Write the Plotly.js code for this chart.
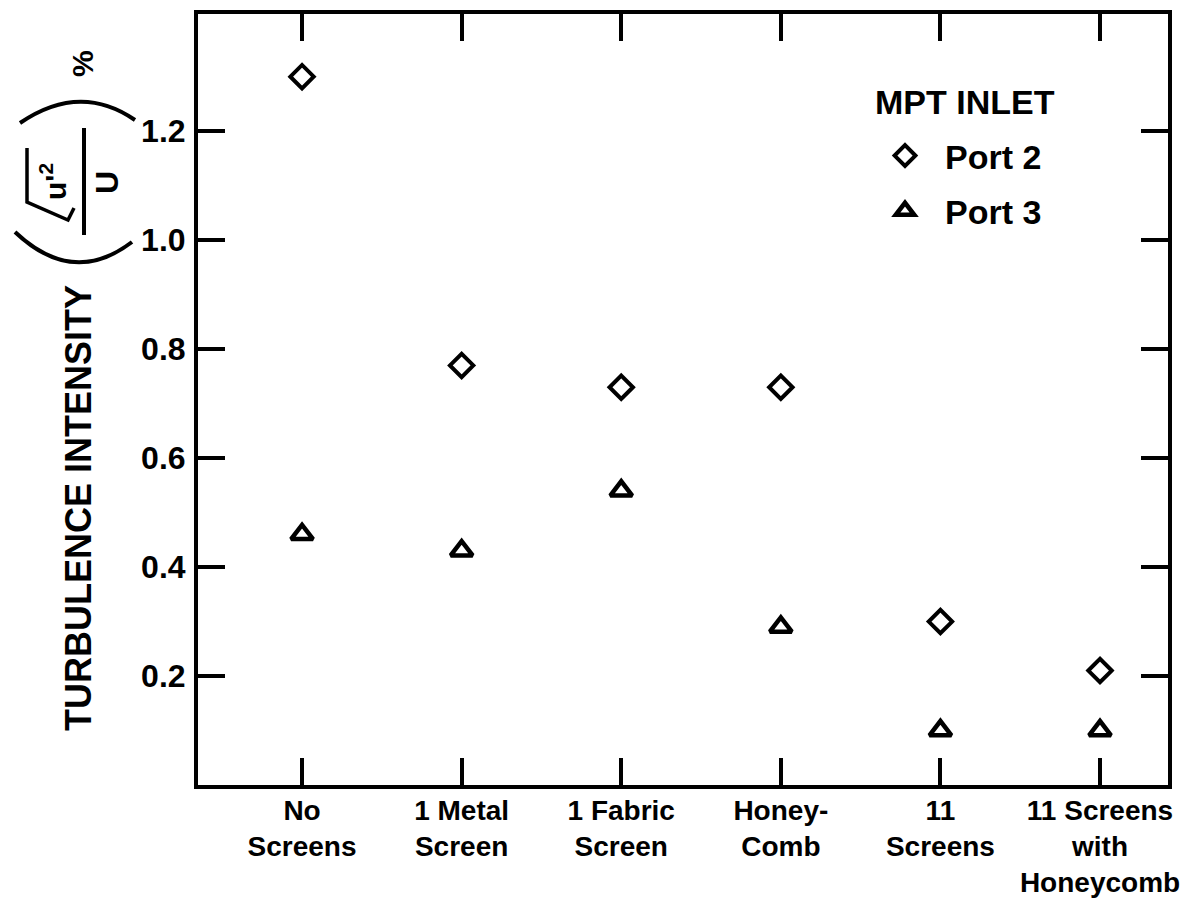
<!DOCTYPE html>
<html>
<head>
<meta charset="utf-8">
<script src="https://cdn.plot.ly/plotly-3.0.1.min.js"></script>
<style>html,body{margin:0;padding:0;background:#fff;}#chart{width:1196px;height:899px;}</style>
</head>
<body>
<div id="chart"></div>
<script>
// ---- data ----
const categories = ['No Screens', '1 Metal Screen', '1 Fabric Screen', 'Honey-Comb', '11 Screens', '11 Screens with Honeycomb'];
const tickLabels = ['No<br>Screens', '1 Metal<br>Screen', '1 Fabric<br>Screen', 'Honey-<br>Comb', '11<br>Screens', '11 Screens<br>with<br>Honeycomb'];
const port2 = [1.30, 0.77, 0.73, 0.73, 0.30, 0.21];
const port3 = [0.46, 0.43, 0.54, 0.29, 0.10, 0.10];
const yTickVals = [0.2, 0.4, 0.6, 0.8, 1.0, 1.2];
const yTickText = ['0.2', '0.4', '0.6', '0.8', '1.0', '1.2'];
const seriesNames = ['Port 2', 'Port 3'];
const legendTitle = 'MPT INLET';

// ---- layout helpers (pixel -> paper) ----
const W = 1196, H = 899;
const M = {l: 198, r: 28, t: 14, b: 114};
const PW = W - M.l - M.r, PH = H - M.t - M.b;
const px = v => (v - M.l) / PW;
const py = v => (H - M.b - v) / PH;
const FONT = 'Liberation Sans, Arial, sans-serif';
const font = (size) => ({family: FONT, size: size, color: '#000', weight: 'bold'});

const traces = [
  {x: categories, y: port2, name: seriesNames[0], type: 'scatter', mode: 'markers',
   legendgroup: 'a',
   marker: {symbol: 'diamond-open', size: 18, color: '#000', line: {width: 4, color: '#000'}}},
  {x: categories, y: port3, name: seriesNames[1], type: 'scatter', mode: 'markers',
   legendgroup: 'b',
   marker: {symbol: 'triangle-up-open', size: 19, color: '#000', line: {width: 4.5, color: '#000'}}}
];

const pathStr = pts => pts.map((p, i) => (i === 0 ? 'M ' : (p.length === 4 ? 'Q ' : 'L ')) +
  (p.length === 4 ? px(p[0]) + ',' + py(p[1]) + ' ' + px(p[2]) + ',' + py(p[3]) : px(p[0]) + ',' + py(p[1]))).join(' ');

const lineStyle = {color: '#000', width: 4};
const shapes = [
  // parentheses of the y-axis formula
  {type: 'path', xref: 'paper', yref: 'paper', path: pathStr([[20, 123], [80, 82, 135, 120]]), line: lineStyle},
  {type: 'path', xref: 'paper', yref: 'paper', path: pathStr([[15, 232], [73, 287, 132, 242]]), line: lineStyle},
  // fraction bar
  {type: 'line', xref: 'paper', yref: 'paper', x0: px(84), x1: px(84), y0: py(128), y1: py(235), line: lineStyle},
  // radical sign
  {type: 'path', xref: 'paper', yref: 'paper', path: pathStr([[27, 148], [27, 202], [68, 220], [74, 208]]), line: {color: '#000', width: 3.5}}
];

const annotations = [
  {text: 'TURBULENCE INTENSITY', xref: 'paper', yref: 'paper', x: px(79), y: py(508), textangle: -90,
   showarrow: false, xanchor: 'center', yanchor: 'middle', font: font(36)},
  {text: "u'<sup>2</sup>", xref: 'paper', yref: 'paper', x: px(53), y: py(182), textangle: -90,
   showarrow: false, xanchor: 'center', yanchor: 'middle', font: font(30)},
  {text: 'U', xref: 'paper', yref: 'paper', x: px(107), y: py(183), textangle: -90,
   showarrow: false, xanchor: 'center', yanchor: 'middle', font: font(32)},
  {text: '%', xref: 'paper', yref: 'paper', x: px(83), y: py(64), textangle: -90,
   showarrow: false, xanchor: 'center', yanchor: 'middle', font: font(30)},
  {text: legendTitle, xref: 'paper', yref: 'paper', x: px(873), y: py(102),
   showarrow: false, xanchor: 'left', yanchor: 'middle', font: font(34)}
];

const axisCommon = {
  showline: true, linewidth: 4, linecolor: '#000', mirror: 'ticks',
  ticks: 'inside', ticklen: 27, tickwidth: 4, tickcolor: '#000',
  showgrid: false, zeroline: false, fixedrange: true
};

const layout = {
  width: W, height: H,
  margin: M,
  paper_bgcolor: '#fff', plot_bgcolor: '#fff',
  showlegend: true,
  legend: {x: px(865), y: py(127), xanchor: 'left', yanchor: 'top',
           font: font(34), bgcolor: 'rgba(0,0,0,0)', borderwidth: 0,
           itemwidth: 70,
           traceorder: 'grouped', tracegroupgap: 8},
  xaxis: Object.assign({}, axisCommon, {
    type: 'category', range: [-0.652, 5.426],
    tickmode: 'array', tickvals: categories, ticktext: tickLabels,
    tickfont: font(28), ticklabelstandoff: -3
  }),
  yaxis: Object.assign({}, axisCommon, {
    range: [0, 1.415],
    tickmode: 'array', tickvals: yTickVals, ticktext: yTickText,
    tickfont: font(32), ticklabelstandoff: 2
  }),
  shapes: shapes,
  annotations: annotations
};

Plotly.newPlot('chart', traces, layout, {staticPlot: true, displayModeBar: false});
</script>
</body>
</html>
